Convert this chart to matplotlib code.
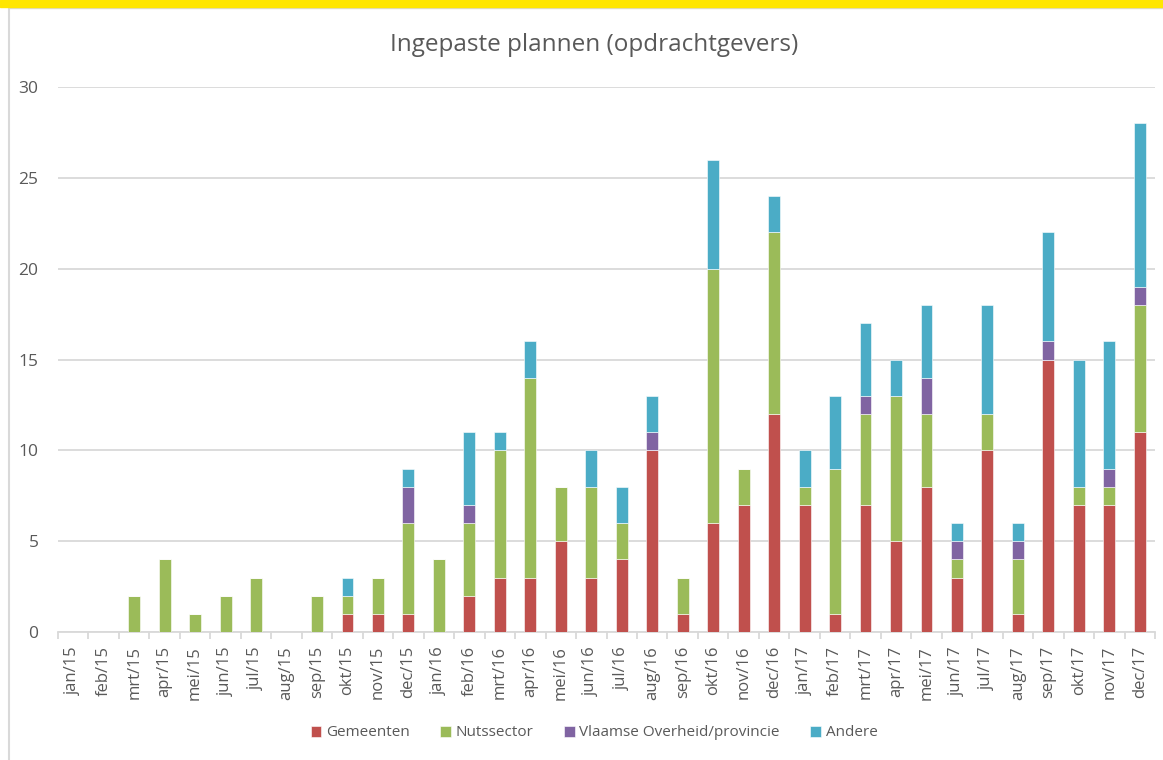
import numpy as np
import matplotlib.pyplot as plt
from matplotlib.patches import Rectangle
from matplotlib.lines import Line2D

months = ["jan", "feb", "mrt", "apr", "mei", "jun",
          "jul", "aug", "sep", "okt", "nov", "dec"]
categories = [f"{m}/{y}" for y in ("15", "16", "17") for m in months]

gemeenten = [0, 0, 0, 0, 0, 0, 0, 0, 0, 1, 1, 1,
             0, 2, 3, 3, 5, 3, 4, 10, 1, 6, 7, 12,
             7, 1, 7, 5, 8, 3, 10, 1, 15, 7, 7, 11]
nutssector = [0, 0, 2, 4, 1, 2, 3, 0, 2, 1, 2, 5,
              4, 4, 7, 11, 3, 5, 2, 0, 2, 14, 2, 10,
              1, 8, 5, 8, 4, 1, 2, 3, 0, 1, 1, 7]
vlaamse = [0, 0, 0, 0, 0, 0, 0, 0, 0, 0, 0, 2,
           0, 1, 0, 0, 0, 0, 0, 1, 0, 0, 0, 0,
           0, 0, 1, 0, 2, 1, 0, 1, 1, 0, 1, 1]
andere = [0, 0, 0, 0, 0, 0, 0, 0, 0, 1, 0, 1,
          0, 4, 1, 2, 0, 2, 2, 2, 0, 6, 0, 2,
          2, 4, 4, 2, 4, 1, 6, 1, 6, 7, 7, 9]

series = [
    ("Gemeenten", gemeenten, "#C0504D"),
    ("Nutssector", nutssector, "#9BBB59"),
    ("Vlaamse Overheid/provincie", vlaamse, "#8064A2"),
    ("Andere", andere, "#4BACC6"),
]

text_color = "#595959"
grid_color = "#d9d9d9"
font = "Open Sans"

fig = plt.figure(figsize=(11.63, 7.60), dpi=100)
ax = fig.add_axes([58 / 1163, 1 - 632 / 760, 1097 / 1163, (632 - 87) / 760])

x = np.arange(len(categories))
bottom = np.zeros(len(categories))
for label, vals, color in series:
    vals = np.array(vals, dtype=float)
    ax.bar(x, vals, width=0.39, bottom=bottom, color=color, label=label,
           edgecolor="white", linewidth=0.4, zorder=3)
    bottom += vals

ax.set_xlim(-0.5, len(categories) - 0.5)
ax.set_ylim(0, 30)
ax.set_yticks(range(0, 31, 5))
ax.yaxis.grid(True, color=grid_color, linewidth=1.3, zorder=0)
ax.tick_params(axis="y", length=0, pad=14, labelsize=12.5, labelcolor=text_color)

ax.set_xticks(x)
ax.set_xticklabels(categories, rotation=90, fontsize=12, color=text_color,
                   family=font)
ax.set_xticks(np.arange(-0.5, len(categories)), minor=True)
ax.tick_params(axis="x", which="major", length=0, pad=10)
ax.tick_params(axis="x", which="minor", length=5, color=grid_color, width=1.3)
for lab in ax.get_yticklabels():
    lab.set_family(font)

for side in ("top", "right", "left"):
    ax.spines[side].set_visible(False)
ax.spines["bottom"].set_color(grid_color)
ax.spines["bottom"].set_linewidth(1.3)

fig.text(594 / 1163, 1 - 45 / 760, "Ingepaste plannen (opdrachtgevers)",
         ha="center", va="center", fontsize=17.5, color=text_color, family=font)

leg = fig.legend(loc="center", bbox_to_anchor=(594 / 1163, 1 - 733 / 760), ncol=4,
                 frameon=False, handlelength=0.7, handleheight=0.7,
                 handletextpad=0.3, columnspacing=2.0,
                 prop={"family": font, "size": 11})
for t in leg.get_texts():
    t.set_color(text_color)

# frame decoration: yellow band on top, light border
fig.patches.append(Rectangle((0, 1 - 7 / 760), 1, 7 / 760, transform=fig.transFigure,
                             color="#FFE600", zorder=10))
fig.lines.append(Line2D([9 / 1163, 9 / 1163], [0, 1 - 7 / 760], transform=fig.transFigure,
                        color=grid_color, linewidth=1.5))
fig.lines.append(Line2D([9 / 1163, 1], [1 - 8 / 760, 1 - 8 / 760], transform=fig.transFigure,
                        color=grid_color, linewidth=1.0))

fig.savefig("out.png", dpi=100)
